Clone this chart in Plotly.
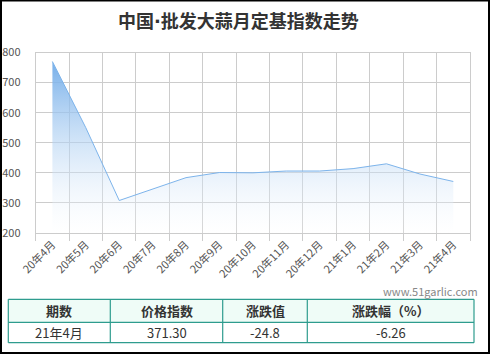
import plotly.graph_objects as go

W, H = 490, 354

categories = ["20年4月", "20年5月", "20年6月", "20年7月", "20年8月", "20年9月", "20年10月",
              "20年11月", "20年12月", "21年1月", "21年2月", "21年3月", "21年4月"]
index_values = [770, 550, 308, 345, 384, 401, 400, 406, 406, 414, 430, 396.1, 371.3]
y_ticks = [200, 300, 400, 500, 600, 700, 800]

title_parts = ["中国", "·", "批发大蒜月定基指数走势"]
watermark = "www.51garlic.com"

table_header = ["期数", "价格指数", "涨跌值", "涨跌幅（%）"]
table_row = ["21年4月", "371.30", "-24.8", "-6.26"]

FONT = "Noto Sans CJK SC, Microsoft YaHei, sans-serif"
TEAL = "#2e9c8e"

def px(x):
    return x / W

def py(y):
    return 1 - y / H

fig = go.Figure()

fig.add_trace(go.Scatter(
    x=categories, y=index_values, mode="lines",
    line=dict(color="rgb(125,180,235)", width=1),
    fill="tozeroy",
    fillgradient=dict(type="vertical",
                      colorscale=[[0, "rgba(255,255,255,0.2)"], [1, "rgba(110,170,232,0.95)"]],
                      start=200, stop=772),
    hoverinfo="skip", showlegend=False,
))

shapes = []
annotations = []

# table drawn with shapes + text annotations
col_x = [8.3, 110.3, 222.7, 307.3, 474]
row_y = [299.3, 322.3, 342.7]
shapes.append(dict(type="rect", xref="paper", yref="paper",
                   x0=px(col_x[0]), x1=px(col_x[-1]), y0=py(row_y[1]), y1=py(row_y[0]),
                   fillcolor="#effcf7", line=dict(width=0), layer="below"))
for yv in row_y:
    shapes.append(dict(type="line", xref="paper", yref="paper",
                       x0=px(col_x[0]), x1=px(col_x[-1]), y0=py(yv), y1=py(yv),
                       line=dict(color=TEAL, width=1.2)))
for xv in col_x:
    shapes.append(dict(type="line", xref="paper", yref="paper",
                       x0=px(xv), x1=px(xv), y0=py(row_y[0]), y1=py(row_y[-1]),
                       line=dict(color=TEAL, width=1.2)))
for i in range(len(table_header)):
    cx = (col_x[i] + col_x[i + 1]) / 2
    annotations.append(dict(text="<b>%s</b>" % table_header[i], x=px(cx), y=py((row_y[0] + row_y[1]) / 2),
                            xref="paper", yref="paper", xanchor="center", yanchor="middle",
                            showarrow=False, font=dict(family=FONT, size=13, color="#333")))
    annotations.append(dict(text=table_row[i], x=px(cx), y=py((row_y[1] + row_y[2]) / 2),
                            xref="paper", yref="paper", xanchor="center", yanchor="middle",
                            showarrow=False, font=dict(family=FONT, size=13, color="#333")))

title_html = "<b>%s<span style=\"font-family:DejaVu Sans\">%s</span>%s</b>" % tuple(title_parts)
annotations.append(dict(text=title_html, x=px(238), y=py(20), xref="paper", yref="paper",
                        xanchor="center", yanchor="middle", showarrow=False,
                        font=dict(family=FONT, size=18, color="#333")))
annotations.append(dict(text=watermark, x=px(480), y=py(291), xref="paper", yref="paper",
                        xanchor="right", yanchor="middle", showarrow=False,
                        font=dict(family=FONT, size=11, color="#888")))

shapes.append(dict(type="rect", xref="paper", yref="paper",
                   x0=px(1), x1=px(489), y0=py(353), y1=py(0.5),
                   line=dict(color="black", width=2), fillcolor="rgba(0,0,0,0)", layer="above"))

fig.update_layout(
    width=W, height=H,
    margin=dict(l=0, r=0, t=0, b=0),
    paper_bgcolor="white", plot_bgcolor="white",
    font=dict(family=FONT, size=11, color="#555"),
    xaxis=dict(domain=[px(35.7), px(470)], type="category", tickson="boundaries",
               range=[-0.5, len(categories) - 0.5],
               showgrid=True, gridcolor="#cccccc", gridwidth=1,
               showline=True, linecolor="#cccccc", linewidth=1, mirror=True,
               ticks="outside", ticklen=7, tickcolor="#cccccc",
               tickangle=-45, tickfont=dict(family=FONT, size=11, color="#555"),
               automargin=False, fixedrange=True),
    yaxis=dict(domain=[py(233), py(52.5)], range=[200, 800], tickvals=y_ticks,
               showgrid=True, gridcolor="#cccccc", gridwidth=1,
               showline=True, linecolor="#cccccc", linewidth=1, mirror=True,
               ticks="", ticklabelstandoff=12,
               tickfont=dict(family=FONT, size=11, color="#555"),
               automargin=False, fixedrange=True, zeroline=False),
    annotations=annotations,
    shapes=shapes,
)

fig.write_html("out.html", config=dict(displayModeBar=False))
